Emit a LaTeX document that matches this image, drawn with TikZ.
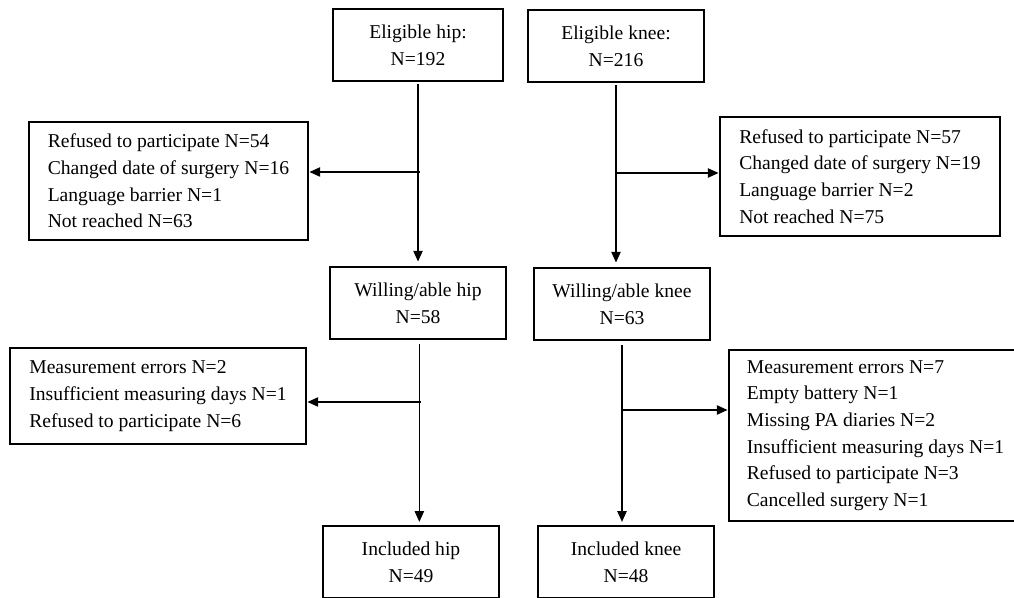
\documentclass[tikz,border=0pt]{standalone}
\usepackage{fontspec}
\setmainfont{Liberation Serif}
\usetikzlibrary{arrows.meta}
\begin{document}
\begin{tikzpicture}[x=0.75pt,y=-0.75pt,
  box/.style={draw, line width=2.2pt, inner xsep=0pt, inner ysep=0pt, align=center,
    font=\fontsize{14.7}{20}\selectfont, minimum width=132pt, minimum height=54pt},
  lbox/.style={box, align=left},
  arr/.style={line width=0.8pt, -{Triangle[length=8pt,width=7pt]}}]
\useasboundingbox (0,0) rectangle (1014,598);
\clip (0,0) rectangle (1014,598);
% top
\node[box, minimum width=127.5pt] (eh) at (418,45) {Eligible hip:\\N=192};
\node[box] (ek) at (616,46) {Eligible knee:\\N=216};
% first exclusions
\node[lbox, minimum width=209.25pt, minimum height=88.5pt] (rh) at (168.5,181)
  {Refused to participate N=54\\Changed date of surgery N=16\\Language barrier N=1\\Not reached N=63};
\node[lbox, minimum width=210pt, minimum height=89.25pt] (rk) at (860,176.5)
  {Refused to participate N=57\\Changed date of surgery N=19\\Language barrier N=2\\Not reached N=75};
% willing
\node[box] (wh) at (418,303) {Willing/able hip\\N=58};
\node[box] (wk) at (622,304) {Willing/able knee\\N=63};
% second exclusions
\node[lbox, minimum width=222pt, minimum height=72pt] (mh) at (158,396)
  {Measurement errors N=2\\Insufficient measuring days N=1\\Refused to participate N=6};
\node[lbox, minimum width=219.75pt, minimum height=128.25pt] (mk) at (875.5,435.5)
  {Measurement errors N=7\\Empty battery N=1\\Missing PA diaries N=2\\Insufficient measuring days N=1\\Refused to participate N=3\\Cancelled surgery N=1};
% included
\node[box] (ih) at (411,562) {Included hip\\N=49};
\node[box] (ik) at (626,562) {Included knee\\N=48};
% connectors
\coordinate (jh1) at (420,172);
\coordinate (jk1) at (617,173);
\coordinate (jh2) at (421,402);
\coordinate (jk2) at (623,410);
\draw[arr, shorten <=1pt, shorten >=3pt] (eh.south) -- (eh.south |- wh.north);
\draw[arr, shorten <=1pt, shorten >=3pt] (ek.south) -- (ek.south |- wk.north);
\draw[arr] (jh1) -- (jh1 -| rh.east);
\draw[arr] (jk1) -- (jk1 -| rk.west);
\draw[arr, shorten <=3pt, shorten >=2pt] ([xshift=1pt]wh.south) -- ([xshift=1pt]wh.south |- ih.north);
\draw[arr, shorten <=3pt, shorten >=2pt] (wk.south) -- (wk.south |- ik.north);
\draw[arr] (jh2) -- (jh2 -| mh.east);
\draw[arr] (jk2) -- (jk2 -| mk.west);
\end{tikzpicture}
\end{document}
